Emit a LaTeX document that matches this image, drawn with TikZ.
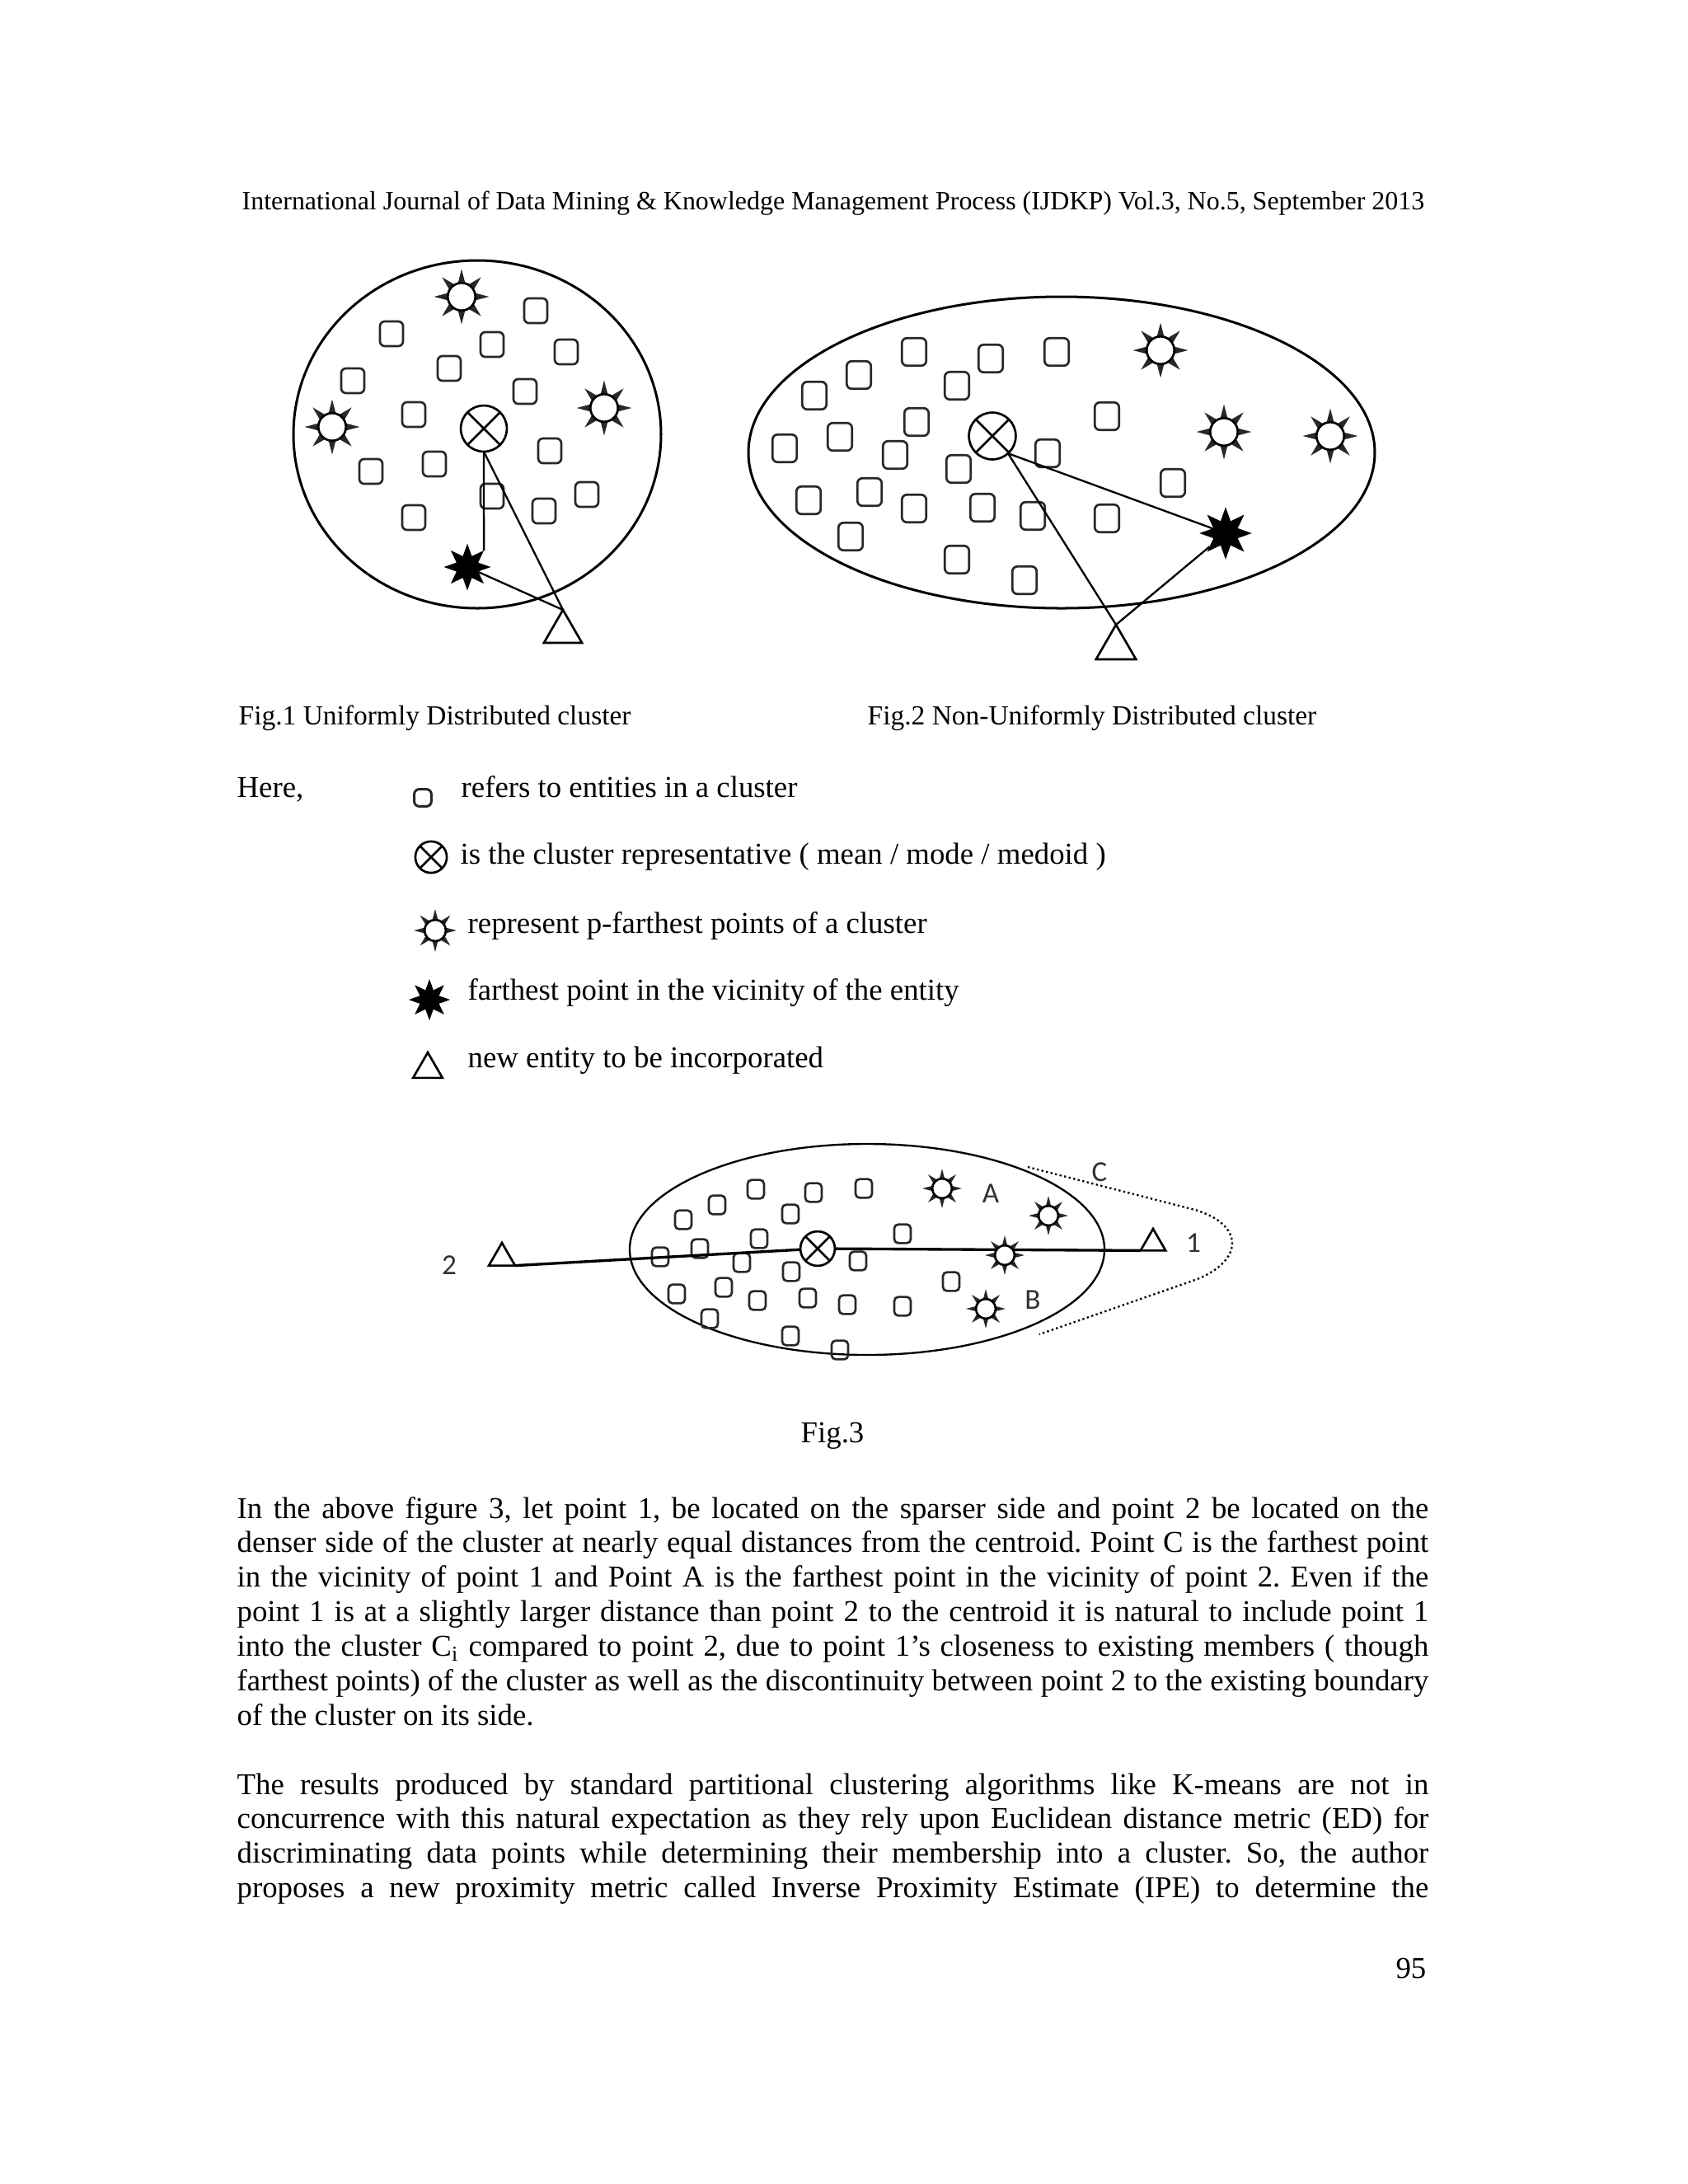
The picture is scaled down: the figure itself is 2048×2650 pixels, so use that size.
\documentclass[tikz,border=0pt]{standalone}
\usepackage{fontspec}
\setmainfont{Liberation Serif}
\newfontfamily\labelfont{Carlito}
\usetikzlibrary{positioning, shapes.geometric, calc}
\definecolor{markgray}{RGB}{40,40,40}
\frenchspacing

\tikzset{
  entity/.style={draw=markgray, line width=0.8pt, rounded corners=1.8pt, inner sep=0pt,
    minimum width=8.4pt, minimum height=9pt},
  rep/.style={circle, draw, line width=0.8pt, fill=white, inner sep=0pt, outer sep=0pt,
    minimum size=#1, path picture={
      \draw (path picture bounding box.north west) -- (path picture bounding box.south east)
            (path picture bounding box.north east) -- (path picture bounding box.south west);}},
  pfar/.style={star, star points=8, star point ratio=2.4, fill=markgray, inner sep=0pt,
    outer sep=0pt, minimum size=#1,
    label={[circle, draw, line width=0.8pt, fill=white, inner sep=0pt, minimum size=0.5*#1]center:{}}},
  farpt/.style={star, star points=8, star point ratio=2, fill=black, inner sep=0pt,
    outer sep=0pt, minimum size=#1},
  newpt/.style={regular polygon, regular polygon sides=3, draw, line width=0.8pt, fill=white,
    inner sep=0pt, outer sep=0pt, minimum size=#1, anchor=corner 1},
  link/.style={line width=0.7pt},
  rim/.style={line width=0.9pt},
  caption/.style={anchor=base west, inner sep=0pt, font=\fontsize{10}{12}\selectfont},
  txt/.style={anchor=base west, inner sep=0pt},
  ptlabel/.style={inner sep=0pt, text=black!80, font=\labelfont\fontsize{10.5}{12}\selectfont}
}

\begin{document}
\begin{tikzpicture}[x=0.29883pt, y=-0.29883pt, font=\fontsize{11}{12.5}\selectfont]
\useasboundingbox (0,0) rectangle (2048,2650);
\fill[white] (0,0) rectangle (2048,2650);

% running head
\node[caption, font=\fontsize{9.55}{12}\selectfont] (head) at (293,254)
  {International Journal of Data Mining \& Knowledge Management Process (IJDKP) Vol.3, No.5, September 2013};

% Fig.1 uniform cluster
\draw[rim] (579,527) ellipse [x radius=223, y radius=211];
\foreach \x/\y [count=\i] in {650/377, 475/405, 597/418, 687/427, 545/447, 428/462, 637/475,
    502/503, 667/547, 450/572, 527/563, 597/602, 712/600, 660/620, 502/628}
  \node[entity] (ea\i) at (\x,\y) {};
\node[rep=16.7pt] (ot1) at (587,520) {};
\node[pfar=20pt] (pa1) at (560,360) {};
\node[pfar=20pt] (pa2) at (403,518) {};
\node[pfar=20pt] (pa3) at (733,495) {};
\node[farpt=17pt] (fp1) at (567,688) {};
\node[newpt=15.9pt] (nw1) at (683,740) {};
\draw[link] (ot1.south) -- (fp1.45);
\draw[link] (ot1.south) -- (nw1.corner 1);
\draw[link] (fp1) -- (nw1.corner 1);

% Fig.2 non-uniform cluster
\draw[rim] (1288,549) ellipse [x radius=380, y radius=189];
\begin{scope}[entity/.append style={minimum width=8.8pt, minimum height=10pt}]
\foreach \x/\y [count=\i] in {1109/427, 1202/435, 1282/427, 1042/455, 988/480, 1161/468,
    1112/512, 1343/505, 952/544, 1019/530, 1086/552, 1271/550, 1163/569, 1423/586,
    981/607, 1055/597, 1109/617, 1192/616, 1253/626, 1343/629, 1032/651, 1161/679, 1243/704}
  \node[entity] (eb\i) at (\x,\y) {};
\end{scope}
\node[rep=17pt] (ot2) at (1204,529) {};
\node[pfar=20pt] (pb1) at (1408,425) {};
\node[pfar=20pt] (pb2) at (1485,524) {};
\node[pfar=20pt] (pb3) at (1614,529) {};
\node[farpt=19pt] (fp2) at (1487,647) {};
\node[newpt=16.7pt] (nw2) at (1354,758) {};
\draw[link] (ot2.-48) -- (fp2);
\draw[link] (ot2.-48) -- (nw2.corner 1);
\draw[link] (fp2) -- (nw2.corner 1);

\node[caption] (cap1) at (289,879) {Fig.1 Uniformly Distributed cluster};
\node[caption] (cap2) at (1052,879) {Fig.2 Non-Uniformly Distributed cluster};

% legend
\node[txt] (here) at (287,967) {Here,};
\node[entity, minimum width=6.2pt, minimum height=6.2pt, line width=0.9pt] (lsq) at (513,968) {};
\node[rep=11.4pt] (lrep) at (523,1040) {};
\node[pfar=15.5pt] (lpf) at (528,1129) {};
\node[farpt=15pt] (lfar) at (521,1213) {};
\node[newpt=12.3pt] (lnew) at (519,1277) {};
\node[txt] (tsq) at (559,967) {refers to entities in a cluster};
\node[txt] (trep) at (558,1048) {is the cluster representative ( mean / mode / medoid )};
\node[txt] (tpf) at (567,1132) {represent p-farthest points of a cluster};
\node[txt] (tfar) at (567,1213) {farthest point in the vicinity of the entity};
\node[txt] (tnew) at (567,1295) {new entity to be incorporated};

% Fig.3
\draw[line width=0.7pt] (1052,1516) ellipse [x radius=288, y radius=128];
\begin{scope}[entity/.append style={minimum width=6pt, minimum height=6.8pt, rounded corners=1.5pt}]
\foreach \x/\y [count=\i] in {917/1443, 987/1447, 1048/1442, 870/1462, 959/1473, 829/1480,
    921/1503, 1095/1497, 849/1515, 801/1525, 900/1532, 1041/1530, 960/1543, 1154/1555,
    878/1562, 821/1570, 919/1578, 980/1575, 1028/1583, 1095/1585, 861/1600, 959/1621, 1019/1638}
  \node[entity] (ec\i) at (\x,\y) {};
\end{scope}
\node[rep=12.5pt] (ot3) at (992,1515) {};
\node[newpt=10.5pt] (nw3a) at (1399,1491) {};
\node[newpt=11pt] (nw3b) at (609,1508) {};
\draw[line width=1pt] (nw3b.corner 3) -- (ot3);
\draw[line width=1pt] (ot3) -- (nw3a.corner 2);
\node[pfar=14.3pt] (pc1) at (1143,1442) {};
\node[pfar=14.3pt] (pc2) at (1272,1475) {};
\node[pfar=14.3pt] (pc3) at (1219,1523) {};
\node[pfar=14.3pt] (pc4) at (1196,1588) {};
\coordinate (c1) at (1247,1416);
\coordinate (c2) at (1261,1619);
\draw[densely dotted, line width=0.7pt] (c1) -- (1450,1468)
  .. controls (1510,1486) and (1510,1530) .. (1450,1553) -- (c2);
\node[ptlabel] (la) at (1202,1448) {A};
\node[ptlabel] (lb) at (1253,1577) {B};
\node[ptlabel] (lc) at (1334,1422) {C};
\node[ptlabel] (l1) at (1448,1508) {1};
\node[ptlabel] (l2) at (545,1535) {2};
\node[caption, font=\fontsize{11}{12}\selectfont] (cap3) at (971,1750) {Fig.3};

% body text
\foreach \ln [count=\i] in {
  {In the above figure 3, let point 1, be located on the sparser side and point 2 be located on the},
  {denser side of the cluster at nearly equal distances from the centroid. Point C is the farthest point},
  {in the vicinity of point 1 and Point A is the farthest point in the vicinity of point 2. Even if the},
  {point 1 is at a slightly larger distance than point 2 to the centroid it is natural to include point 1},
  {into the cluster C\textsubscript{i} compared to point 2, due to point 1’s closeness to existing members ( though},
  {farthest points) of the cluster as well as the discontinuity between point 2 to the existing boundary}}
  \node[txt] (pa\i) at (287,1842+41.9*\i-41.9) {\makebox[432pt][s]{\ln}};
\node[txt] (pa7) at (287,2093) {of the cluster on its side.};
\foreach \ln [count=\i] in {
  {The results produced by standard partitional clustering algorithms like K-means are not in},
  {concurrence with this natural expectation as they rely upon Euclidean distance metric (ED) for},
  {discriminating data points while determining their membership into a cluster. So, the author},
  {proposes a new proximity metric called Inverse Proximity Estimate (IPE) to determine the}}
  \node[txt] (pb\i) at (287,2177+41.9*\i-41.9) {\makebox[432pt][s]{\ln}};

\node[anchor=base east, inner sep=0pt] (pgno) at (1731,2400) {95};
\end{tikzpicture}
\end{document}
